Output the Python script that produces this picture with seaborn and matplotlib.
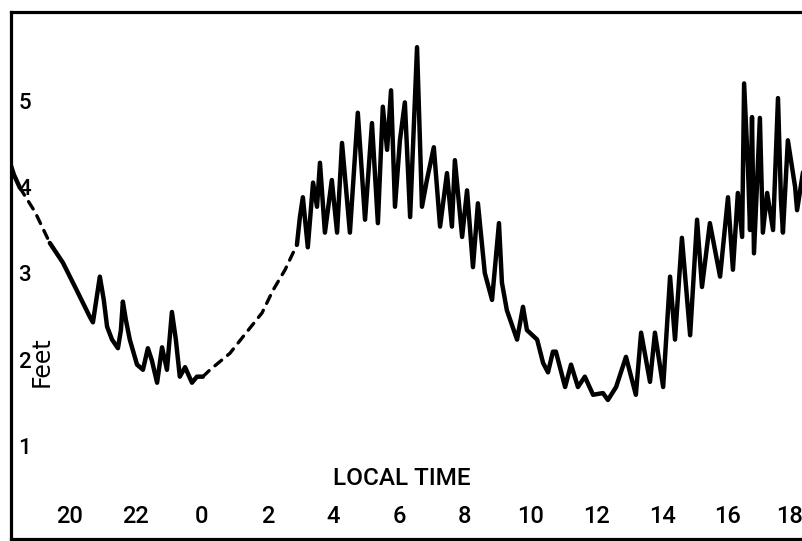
import matplotlib
matplotlib.use("Agg")
import matplotlib.pyplot as plt
import seaborn as sns

# Water level record (feet) against local time; hours run continuously
# from the previous evening (24 = midnight, 42 = 18:00 next day).
evening_a_hours = [18.24, 18.36, 18.54]
evening_a_feet = [4.31, 4.17, 4.02]

gap1_hours = [18.54, 19.00, 19.45]
gap1_feet = [4.02, 3.74, 3.38]

evening_b_hours = [19.45, 19.85, 20.27, 20.67, 20.76, 20.97, 21.09, 21.19, 21.34,
                   21.52, 21.61, 21.67, 21.76, 21.88, 22.10, 22.28, 22.43, 22.55,
                   22.71, 22.86, 23.01, 23.16, 23.28, 23.40, 23.56, 23.77, 23.92,
                   24.10]
evening_b_feet = [3.38, 3.15, 2.83, 2.52, 2.46, 2.99, 2.72, 2.41, 2.26,
                  2.16, 2.37, 2.70, 2.49, 2.26, 1.97, 1.91, 2.16, 2.02,
                  1.76, 2.17, 1.91, 2.58, 2.26, 1.83, 1.94, 1.76, 1.83,
                  1.83]

gap2_hours = [24.10, 24.32, 24.92, 25.44, 25.90, 26.23, 26.60, 26.96]
gap2_feet = [1.83, 1.91, 2.10, 2.35, 2.57, 2.83, 3.07, 3.36]

day_hours = [26.96, 27.05, 27.14, 27.29, 27.45, 27.57, 27.66, 27.81, 28.02, 28.18,
             28.33, 28.57, 28.81, 29.03, 29.24, 29.42, 29.57, 29.70, 29.82, 29.94,
             30.09, 30.24, 30.40, 30.61, 30.76, 30.91, 31.12, 31.31, 31.52, 31.67,
             31.76, 31.98, 32.13, 32.31, 32.46, 32.67, 32.89, 33.10, 33.19, 33.34,
             33.65, 33.83, 33.95, 34.26, 34.44, 34.59, 34.74, 34.83, 35.11, 35.29,
             35.50, 35.71, 35.96, 36.26, 36.41, 36.66, 36.96, 37.26, 37.42, 37.69,
             37.84, 38.09, 38.30, 38.45, 38.66, 38.91, 39.12, 39.27, 39.51, 39.82,
             40.06, 40.21, 40.36, 40.49, 40.55, 40.67, 40.73, 40.79, 40.85, 41.03,
             41.12, 41.25, 41.43, 41.58, 41.67, 41.73, 41.88, 42.10, 42.16, 42.34]
day_feet = [3.36, 3.68, 3.91, 3.33, 4.08, 3.80, 4.31, 3.50, 4.11, 3.50,
            4.54, 3.50, 4.89, 3.65, 4.77, 3.61, 4.96, 4.46, 5.15, 3.80,
            4.57, 5.01, 3.68, 5.65, 3.80, 4.11, 4.49, 3.57, 4.19, 3.57,
            4.34, 3.45, 3.99, 3.10, 3.84, 3.03, 2.72, 3.61, 2.92, 2.60,
            2.26, 2.64, 2.37, 2.26, 1.99, 1.88, 2.12, 2.12, 1.71, 1.97,
            1.71, 1.83, 1.62, 1.64, 1.56, 1.71, 2.06, 1.62, 2.34, 1.77,
            2.34, 1.71, 2.99, 2.26, 3.44, 2.31, 3.65, 2.87, 3.61, 2.99,
            3.91, 3.07, 3.96, 3.45, 5.23, 4.23, 3.53, 4.84, 3.26, 4.83,
            3.50, 3.96, 3.53, 5.06, 3.88, 3.50, 4.57, 4.03, 3.76, 4.20]

x_tick_hours = [20, 22, 24, 26, 28, 30, 32, 34, 36, 38, 40, 42]
x_tick_labels = [str(h % 24) for h in x_tick_hours]
y_tick_values = [1, 2, 3, 4, 5]
y_tick_labels = [str(v) for v in y_tick_values]

sns.set_style("white")
plt.rcParams['font.family'] = ['Roboto', 'DejaVu Sans']

fig = plt.figure(figsize=(8.03, 5.41), dpi=100)
ax = fig.add_axes([11 / 803, 2 / 541, 792 / 803, 527 / 541])

solid_kw = dict(ax=ax, color="black", linewidth=3.2, sort=False, estimator=None)
dash_kw = dict(ax=ax, color="black", linewidth=2.4, sort=False, estimator=None)

sns.lineplot(x=evening_a_hours, y=evening_a_feet, **solid_kw)
sns.lineplot(x=evening_b_hours, y=evening_b_feet, **solid_kw)
sns.lineplot(x=day_hours, y=day_feet, **solid_kw)
for hrs, ft in [(gap1_hours, gap1_feet), (gap2_hours, gap2_feet)]:
    line = sns.lineplot(x=hrs, y=ft, **dash_kw).lines[-1]
    line.set_linestyle((0, (2.6, 2.3)))
    line.set_dash_capstyle("round")

ax.set_xlim(18.27, 42.34)
ax.set_ylim(-0.052, 6.058)

for side in ["left", "top", "bottom"]:
    ax.spines[side].set_linewidth(2.3)
    ax.spines[side].set_color("black")
ax.spines["right"].set_visible(False)

ax.set_xticks(x_tick_hours)
ax.set_yticks(y_tick_values)
ax.tick_params(axis="both", direction="in", length=5, width=2.5, color="black",
               labelbottom=False, labelleft=False)
ax.set_xlabel("")
ax.set_ylabel("")

txt_kw = dict(color="black", fontweight="medium")

xt = ax.get_xaxis_transform()
for h, lab in zip(x_tick_hours, x_tick_labels):
    if h == x_tick_hours[-1]:
        # last label sits against the right edge of the frame
        ax.text(0.9995, 0.042, lab, transform=ax.transAxes, ha="right",
                va="center", fontsize=17, **txt_kw)
    else:
        ax.text(h + 0.06, 0.042, lab, transform=xt, ha="center", va="center",
                fontsize=17, **txt_kw)

yt = ax.get_yaxis_transform()
for v, lab in zip(y_tick_values, y_tick_labels):
    ax.text(0.0095, v, lab, transform=yt, ha="left", va="center",
            fontsize=16, **txt_kw)

ax.text(0.4937, 0.1157, "LOCAL TIME", transform=ax.transAxes, ha="center",
        va="center", fontsize=17.5, **txt_kw)
ax.text(0.039, 2.0, "Feet", transform=yt, rotation=90, ha="center",
        va="center", fontsize=17, color="black", family=["DejaVu Sans"])

fig.savefig("out.png", dpi=100, facecolor="white")
